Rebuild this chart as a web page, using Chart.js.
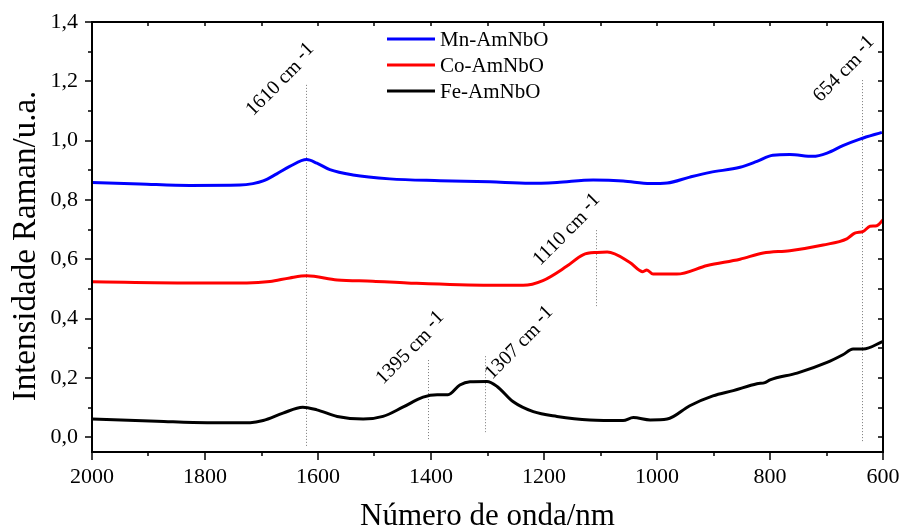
<!DOCTYPE html>
<html>
<head>
<meta charset="utf-8">
<script src="https://cdn.jsdelivr.net/npm/chart.js@4.4.1/dist/chart.umd.min.js"></script>
<style>
  html, body { margin: 0; padding: 0; background: #fff; }
  canvas { display: block; }
</style>
</head>
<body>
<canvas id="raman" width="901" height="530"></canvas>
<script>
// Ramanspektren, Werte (Wellenzahl / Intensität)
const mnWave = [2000, 1915, 1827, 1738, 1715, 1697, 1673, 1650, 1620, 1602, 1579, 1538, 1473, 1384, 1296, 1225, 1177, 1113, 1060, 1012, 982, 942, 906, 853, 823, 795, 765, 724, 699, 671, 641, 602];
const mnInt  = [0.859, 0.854, 0.849, 0.850, 0.855, 0.864, 0.888, 0.913, 0.936, 0.924, 0.902, 0.884, 0.871, 0.865, 0.861, 0.856, 0.859, 0.867, 0.864, 0.855, 0.857, 0.877, 0.893, 0.910, 0.930, 0.951, 0.953, 0.947, 0.958, 0.983, 1.005, 1.028];

const coWave = [2000, 1827, 1726, 1685, 1650, 1620, 1566, 1503, 1442, 1296, 1237, 1202, 1160, 1131, 1106, 1088, 1048, 1025, 1018, 1007, 965, 911, 853, 812, 765, 706, 664, 650, 635, 623, 611, 600];
const coInt  = [0.524, 0.520, 0.520, 0.525, 0.537, 0.544, 0.530, 0.526, 0.520, 0.512, 0.512, 0.528, 0.576, 0.615, 0.623, 0.624, 0.589, 0.558, 0.564, 0.550, 0.550, 0.579, 0.600, 0.621, 0.629, 0.648, 0.669, 0.688, 0.694, 0.711, 0.713, 0.733];

const feWave = [2000, 1885, 1796, 1720, 1697, 1662, 1627, 1602, 1566, 1520, 1485, 1450, 1414, 1389, 1370, 1349, 1331, 1301, 1283, 1255, 1219, 1177, 1119, 1060, 1042, 1012, 982, 942, 901, 865, 823, 809, 800, 752, 699, 671, 653, 635, 600];
const feInt  = [0.061, 0.054, 0.049, 0.049, 0.056, 0.081, 0.101, 0.092, 0.070, 0.061, 0.070, 0.101, 0.135, 0.143, 0.143, 0.176, 0.187, 0.188, 0.171, 0.120, 0.086, 0.070, 0.058, 0.056, 0.066, 0.058, 0.061, 0.106, 0.139, 0.157, 0.180, 0.184, 0.193, 0.216, 0.252, 0.278, 0.297, 0.297, 0.323];

// Achsenteilung
const xMajor = [2000, 1800, 1600, 1400, 1200, 1000, 800, 600];
const xMinor = [1900, 1700, 1500, 1300, 1100, 900, 700];
const yMajor = [0, 0.2, 0.4, 0.6, 0.8, 1.0, 1.2, 1.4];
const yMinor = [0.1, 0.3, 0.5, 0.7, 0.9, 1.1, 1.3];

// Markierte Banden: Text, Lage der Linie, Anfang der Beschriftung (Datenkoordinaten)
const peakText   = ['1610 cm', '654 cm', '1110 cm', '1395 cm', '1307 cm'];
const peakWave   = [1621, 637, 1108, 1405, 1304];
const peakTop    = [1.188, 1.204, 0.698, 0.260, 0.273];
const peakBottom = [-0.034, -0.020, 0.442, -0.012, 0.017];
const labelWave  = [1715, 711, 1207, 1485, 1292];
const labelInt   = [1.081, 1.128, 0.576, 0.176, 0.193];

const serif = "'Liberation Serif', 'Times New Roman', serif";
Chart.defaults.font.family = serif;
Chart.defaults.color = '#000';

function toPoints(xs, ys) {
    return xs.map((v, i) => ({ x: v, y: ys[i] }));
}

// Rahmen, Striche, Legende, Achsentitel und Bandenmarkierungen
const spectrumDecor = {
    id: 'spectrumDecor',
    beforeDatasetsDraw(chart) {
        const { ctx, scales: { x, y } } = chart;
        ctx.save();
        ctx.strokeStyle = '#7a7a7a';
        ctx.lineWidth = 1;
        ctx.setLineDash([1, 2]);
        peakWave.forEach((w, i) => {
            const px = Math.round(x.getPixelForValue(w)) + 0.5;
            ctx.beginPath();
            ctx.moveTo(px, y.getPixelForValue(peakTop[i]));
            ctx.lineTo(px, y.getPixelForValue(peakBottom[i]));
            ctx.stroke();
        });
        ctx.restore();
    },
    afterDraw(chart) {
        const { ctx, chartArea: a, scales: { x, y } } = chart;
        ctx.save();
        ctx.strokeStyle = '#000';
        ctx.lineWidth = 2;
        ctx.strokeRect(a.left, a.top, a.right - a.left, a.bottom - a.top);

        ctx.lineWidth = 1.5;
        ctx.beginPath();
        // unten: nach aussen, oben: nach innen
        xMajor.forEach(v => {
            const px = Math.round(x.getPixelForValue(v));
            ctx.moveTo(px, a.bottom); ctx.lineTo(px, a.bottom + 8);
            ctx.moveTo(px, a.top); ctx.lineTo(px, a.top + 4);
        });
        xMinor.forEach(v => {
            const px = Math.round(x.getPixelForValue(v));
            ctx.moveTo(px, a.bottom); ctx.lineTo(px, a.bottom + 4);
            ctx.moveTo(px, a.top); ctx.lineTo(px, a.top + 4);
        });
        // links: nach aussen, rechts: nach innen
        yMajor.forEach(v => {
            const py = Math.round(y.getPixelForValue(v));
            ctx.moveTo(a.left, py); ctx.lineTo(a.left - 7, py);
            ctx.moveTo(a.right, py); ctx.lineTo(a.right - 5, py);
        });
        yMinor.forEach(v => {
            const py = Math.round(y.getPixelForValue(v));
            ctx.moveTo(a.left, py); ctx.lineTo(a.left - 4, py);
            ctx.moveTo(a.right, py); ctx.lineTo(a.right - 5, py);
        });
        ctx.stroke();

        // Bandenbeschriftung, 45° gedreht, "-1" leicht hochgestellt
        ctx.fillStyle = '#000';
        ctx.font = '20px ' + serif;
        ctx.textAlign = 'left';
        ctx.textBaseline = 'alphabetic';
        peakText.forEach((t, i) => {
            ctx.save();
            ctx.translate(x.getPixelForValue(labelWave[i]), y.getPixelForValue(labelInt[i]));
            ctx.rotate(-Math.PI / 4);
            ctx.fillText(t, 0, 0);
            const w = ctx.measureText(t + ' ').width;
            ctx.fillText('-1', w, -4);
            ctx.restore();
        });

        // Legende
        ctx.font = '21px ' + serif;
        ctx.textBaseline = 'middle';
        chart.data.datasets.forEach((ds, i) => {
            const ly = 39 + i * 26;
            ctx.strokeStyle = ds.borderColor;
            ctx.lineWidth = 3;
            ctx.beginPath();
            ctx.moveTo(387, ly); ctx.lineTo(435, ly);
            ctx.stroke();
            ctx.fillText(ds.label, 440, ly + 1);
        });

        // Achsentitel
        ctx.textAlign = 'center';
        ctx.textBaseline = 'alphabetic';
        ctx.font = '31px ' + serif;
        ctx.fillText('Número de onda/nm', (a.left + a.right) / 2, 525);
        ctx.font = '33px ' + serif;
        ctx.translate(35, 246);
        ctx.rotate(-Math.PI / 2);
        ctx.fillText('Intensidade Raman/u.a.', 0, 0);
        ctx.restore();
    }
};

const ctx = document.getElementById('raman').getContext('2d');
new Chart(ctx, {
    type: 'line',
    data: {
        datasets: [
            { label: 'Mn-AmNbO', data: toPoints(mnWave, mnInt), borderColor: '#0000ff' },
            { label: 'Co-AmNbO', data: toPoints(coWave, coInt), borderColor: '#ff0000' },
            { label: 'Fe-AmNbO', data: toPoints(feWave, feInt), borderColor: '#000000' }
        ]
    },
    options: {
        responsive: false,
        animation: false,
        devicePixelRatio: 1,
        layout: { padding: { top: 22, right: 18, left: 0, bottom: 0 } },
        elements: {
            point: { radius: 0 },
            line: { borderWidth: 3, cubicInterpolationMode: 'monotone', fill: false }
        },
        plugins: { legend: { display: false }, tooltip: { enabled: false } },
        scales: {
            x: {
                type: 'linear',
                reverse: true,
                min: 600,
                max: 2000,
                afterBuildTicks: s => { s.ticks = xMajor.map(v => ({ value: v })); },
                afterFit: s => { s.height = 78; s.paddingLeft = 0; s.paddingRight = 0; },
                grid: { display: false, drawTicks: false },
                border: { display: false },
                ticks: { padding: 12, autoSkip: false, maxRotation: 0, font: { size: 22 }, callback: v => String(v) }
            },
            y: {
                min: -0.05,
                max: 1.4,
                afterBuildTicks: s => { s.ticks = yMajor.map(v => ({ value: v })); },
                afterFit: s => { s.width = 92; s.paddingTop = 0; s.paddingBottom = 0; },
                grid: { display: false, drawTicks: false },
                border: { display: false },
                ticks: { padding: 14, font: { size: 22 }, callback: v => v.toFixed(1).replace('.', ',') }
            }
        }
    },
    plugins: [spectrumDecor]
});
</script>
</body>
</html>
